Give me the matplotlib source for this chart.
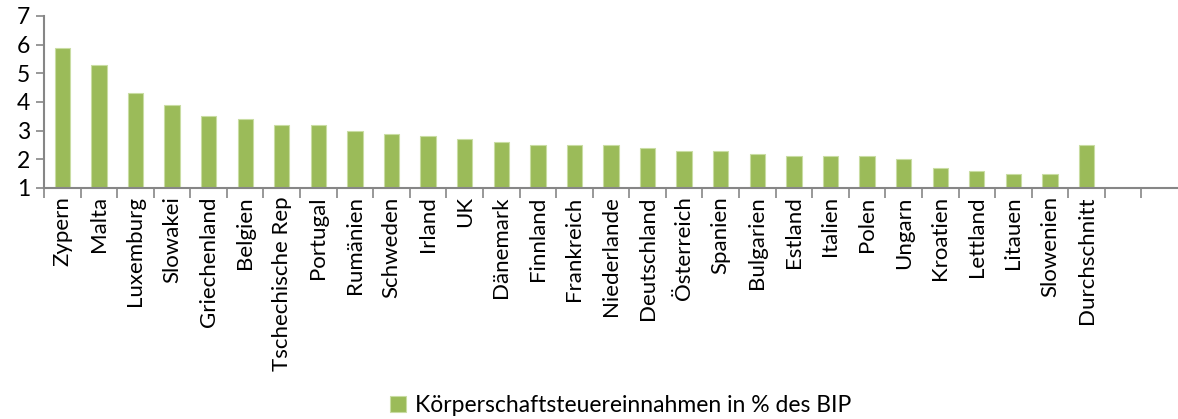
import matplotlib.pyplot as plt
import numpy as np

countries = [
    "Zypern", "Malta", "Luxemburg", "Slowakei", "Griechenland", "Belgien",
    "Tschechische Rep", "Portugal", "Rumänien", "Schweden", "Irland", "UK",
    "Dänemark", "Finnland", "Frankreich", "Niederlande", "Deutschland",
    "Österreich", "Spanien", "Bulgarien", "Estland", "Italien", "Polen",
    "Ungarn", "Kroatien", "Lettland", "Litauen", "Slowenien", "Durchschnitt",
]
values = [
    5.9, 5.3, 4.3, 3.9, 3.5, 3.4, 3.2, 3.2, 3.0, 2.9, 2.8, 2.7, 2.6, 2.5,
    2.5, 2.5, 2.4, 2.3, 2.3, 2.2, 2.1, 2.1, 2.1, 2.0, 1.7, 1.6, 1.5, 1.5, 2.5,
]
series_label = "Körperschaftsteuereinnahmen in % des BIP"

plt.rcParams["font.family"] = ["Lato", "DejaVu Sans"]

fig = plt.figure(figsize=(11.78, 4.19), dpi=100)
ax = fig.add_axes([44 / 1178, 1 - 188 / 419, 1 - 44 / 1178, (188 - 16) / 419])

x = np.arange(len(countries))
base = 1
ax.bar(x, np.array(values) - base, bottom=base, width=0.42,
       color="#9BBB59", edgecolor="#C9DDA3", linewidth=0.8,
       label=series_label)

ax.set_xlim(-0.5, 30.5)
ax.set_ylim(1, 7)
ax.set_yticks(range(1, 8))
ax.set_xticks(x)
ax.set_xticklabels(countries, rotation=90, fontsize=16)
ax.set_xticks(np.arange(-0.5, 30, 1), minor=True)
ax.tick_params(axis="x", which="major", length=0, pad=6)
ax.tick_params(axis="x", which="minor", length=7, width=1.2, color="#868686")
ax.tick_params(axis="y", length=6, width=1.2, color="#868686", labelsize=16.5, pad=4)

for side in ["top", "right"]:
    ax.spines[side].set_visible(False)
for side in ["left", "bottom"]:
    ax.spines[side].set_color("#868686")
    ax.spines[side].set_linewidth(1.5)

fig.legend(loc="lower center", bbox_to_anchor=(0.527, -0.042), frameon=False,
           fontsize=16.5, handlelength=0.7, handleheight=0.7, handletextpad=0.4)

fig.savefig("out.png", dpi=100)
